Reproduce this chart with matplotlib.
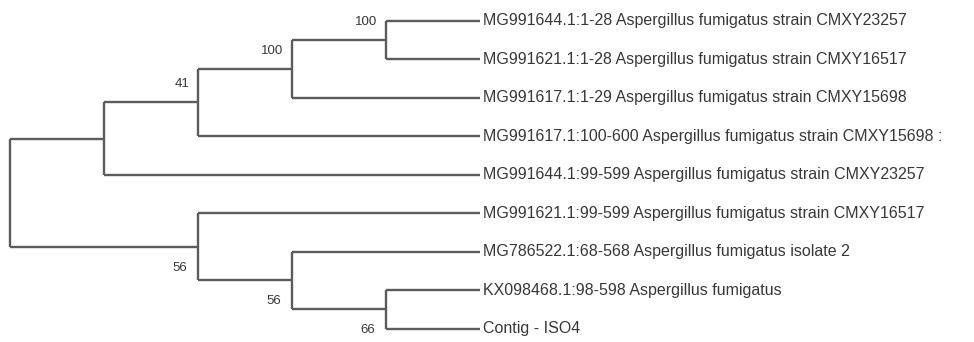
import matplotlib
matplotlib.use("Agg")
import matplotlib.pyplot as plt

# leaves, top to bottom
leaf_labels = [
    "MG991644.1:1-28 Aspergillus fumigatus strain CMXY23257",
    "MG991621.1:1-28 Aspergillus fumigatus strain CMXY16517",
    "MG991617.1:1-29 Aspergillus fumigatus strain CMXY15698",
    "MG991617.1:100-600 Aspergillus fumigatus strain CMXY15698 :",
    "MG991644.1:99-599 Aspergillus fumigatus strain CMXY23257",
    "MG991621.1:99-599 Aspergillus fumigatus strain CMXY16517",
    "MG786522.1:68-568 Aspergillus fumigatus isolate 2",
    "KX098468.1:98-598 Aspergillus fumigatus",
    "Contig - ISO4",
]

# internal nodes: name -> children (ints are leaf indices)
clades = {
    "n100a": [0, 1],
    "n100b": ["n100a", 2],
    "n41": ["n100b", 3],
    "a": ["n41", 4],
    "n66": [7, 8],
    "n56b": [6, "n66"],
    "n56a": [5, "n56b"],
    "root": ["a", "n56a"],
}
support = {"n100a": 100, "n100b": 100, "n41": 41, "n56a": 56, "n56b": 56, "n66": 66}

FONT = ["Liberation Sans", "DejaVu Sans"]
LINE = "#5c5c5c"
TXT = "#383838"


def height(n):
    if isinstance(n, int):
        return 0
    return 1 + max(height(c) for c in clades[n])


def ypos(n):
    if isinstance(n, int):
        return float(n)
    ys = [ypos(c) for c in clades[n]]
    return (ys[0] + ys[-1]) / 2


H = height("root")


def xpos(n):
    return H - height(n)


fig = plt.figure(figsize=(9.74, 3.42), dpi=100)
ax = fig.add_axes([0, 0, 1, 1])
ax.set_xlim(-0.106, 10.26)
ax.set_ylim(8.35, -0.538)
ax.axis("off")

root_y = ypos("root")

for name, kids in clades.items():
    x0, y0 = xpos(name), ypos(name)
    ys = [ypos(k) for k in kids]
    ax.plot([x0, x0], [min(ys), max(ys)], color=LINE, lw=1.7, solid_capstyle="butt")
    for k in kids:
        ax.plot([x0, xpos(k)], [ypos(k), ypos(k)], color=LINE, lw=1.7, solid_capstyle="butt")
    if name in support:
        if y0 < root_y:
            ax.text(x0 - 0.09, y0 - 0.47, str(support[name]), ha="right", va="center",
                    fontsize=9.5, family=FONT, color=TXT)
        else:
            ax.text(x0 - 0.11, y0 + 0.54, str(support[name]), ha="right", va="center",
                    fontsize=9.5, family=FONT, color=TXT)

for i, lab in enumerate(leaf_labels):
    ax.text(H + 0.03, i, lab, ha="left", va="center", fontsize=11.5,
            family=FONT, color=TXT)

fig.savefig("out.png", dpi=100)
